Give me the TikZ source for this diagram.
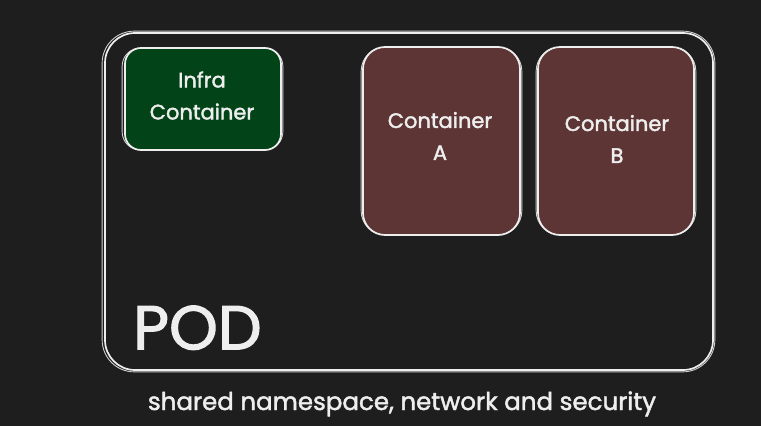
\documentclass[tikz,border=0pt]{standalone}
\usepackage{fontspec}
\setmainfont{Poppins}[FakeBold=1.8]
\definecolor{bg}{HTML}{1E1E1E}
\definecolor{ink}{HTML}{EEEEEE}
\definecolor{infragreen}{HTML}{024418}
\definecolor{maroon}{HTML}{5E3535}
\begin{document}
\begin{tikzpicture}[x=1pt,y=-1pt,
  boxline/.style={draw=ink,line width=1.7pt},
  sketch/.style={draw=ink,line width=0.9pt,opacity=0.85},
  label/.style={text=ink,font=\fontsize{21}{32}\selectfont,align=center,inner sep=0pt}]
\fill[bg] (0,0) rectangle (761,426);
\useasboundingbox (0,0) rectangle (761,426);
% pod
\node[boxline,rounded corners=30pt,minimum width=608pt,minimum height=337pt,inner sep=0pt] (pod) at (409,201.5) {};
\draw[sketch,rounded corners=32pt] ([shift={(-2,-1)}]pod.north west) rectangle ([shift={(1,1)}]pod.south east);
% infra
\node[boxline,fill=infragreen,rounded corners=16pt,minimum width=156pt,minimum height=102pt,inner sep=0pt] (infra) at (203,99) {};
\draw[sketch,rounded corners=18pt] ([shift={(-2,1)}]infra.north west) rectangle ([shift={(1,-1)}]infra.south east);
\node[label] (infratxt) at (202,95.5) {Infra\\Container};
% container A
\node[boxline,fill=maroon,rounded corners=22pt,minimum width=157pt,minimum height=188pt,inner sep=0pt] (ca) at (441.5,141) {};
\draw[sketch,rounded corners=24pt] ([shift={(-1,1)}]ca.north west) rectangle ([shift={(1,-1)}]ca.south east);
\node[label] (catxt) at (440,136) {Container\\A};
% container B
\node[boxline,fill=maroon,rounded corners=22pt,minimum width=156pt,minimum height=188pt,inner sep=0pt] (cb) at (616,141) {};
\draw[sketch,rounded corners=24pt] ([shift={(-1,1)}]cb.north west) rectangle ([shift={(1,-1)}]cb.south east);
\node[label] (cbtxt) at (617,139) {Container\\B};
% POD label
\node[text=ink,font=\fontsize{62}{66}\selectfont,inner sep=0pt,anchor=south west] (podtxt) at (133,350) {POD};
% caption
\node[text=ink,font=\fontsize{24.5}{28}\selectfont,inner sep=0pt,anchor=base] (caption) at (402,410) {shared namespace, network and security};
\end{tikzpicture}
\end{document}
